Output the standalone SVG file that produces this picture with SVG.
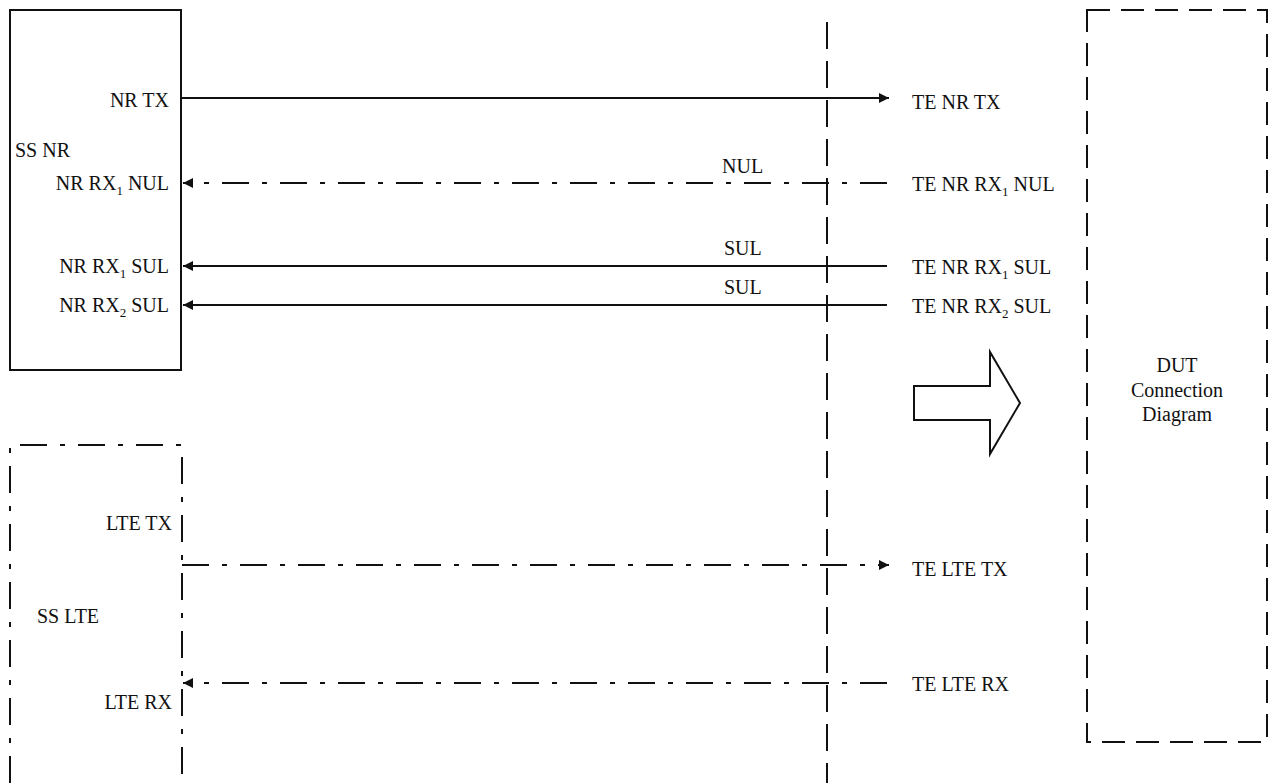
<svg xmlns="http://www.w3.org/2000/svg" width="1273" height="783" viewBox="0 0 1273 783" font-family="'Liberation Serif', 'DejaVu Serif', serif">
<style>
text{font-family:'Liberation Serif','DejaVu Serif','Times New Roman',serif;font-size:20px;fill:#111}
.sub{font-size:13px}
.box{fill:none;stroke:#111;stroke-width:2}
.dd{stroke-dasharray:27 13 5 13}
.ds{stroke-dasharray:23 11}
.vd{stroke-dasharray:27 12}
.ln{fill:none;stroke:#111;stroke-width:2}
</style>
<defs>
<marker id="ah" markerUnits="userSpaceOnUse" markerWidth="11" markerHeight="10" refX="10" refY="5" orient="auto">
<path d="M0,0 L10,5 L0,10 z" fill="#111"/>
</marker>
</defs>
<rect width="1273" height="783" fill="#fff"/>

<g id="ss-nr">
<rect class="box" x="10" y="10" width="171" height="360"/>
<text x="15" y="157">SS NR</text>
<text x="169" y="107" text-anchor="end">NR TX</text>
<text x="169" y="190" text-anchor="end">NR RX<tspan class="sub" dy="5">1</tspan><tspan dy="-5"> NUL</tspan></text>
<text x="169" y="273" text-anchor="end">NR RX<tspan class="sub" dy="5">1</tspan><tspan dy="-5"> SUL</tspan></text>
<text x="169" y="312" text-anchor="end">NR RX<tspan class="sub" dy="5">2</tspan><tspan dy="-5"> SUL</tspan></text>
</g>

<g id="ss-lte">
<path class="box dd" d="M10,783 L10,445 L182,445 L182,783"/>
<text x="37" y="623">SS LTE</text>
<text x="172" y="530" text-anchor="end">LTE TX</text>
<text x="172" y="709" text-anchor="end">LTE RX</text>
</g>

<g id="boundary">
<line class="ln vd" x1="827" y1="22" x2="827" y2="783"/>
</g>

<g id="te-labels">
<text x="912" y="109">TE NR TX</text>
<text x="912" y="191">TE NR RX<tspan class="sub" dy="5">1</tspan><tspan dy="-5"> NUL</tspan></text>
<text x="912" y="274">TE NR RX<tspan class="sub" dy="5">1</tspan><tspan dy="-5"> SUL</tspan></text>
<text x="912" y="313">TE NR RX<tspan class="sub" dy="5">2</tspan><tspan dy="-5"> SUL</tspan></text>
<text x="912" y="576">TE LTE TX</text>
<text x="912" y="691">TE LTE RX</text>
</g>

<g id="big-arrow">
<path class="box" d="M914,386 L990,386 L990,352 L1020,403 L990,454 L990,420 L914,420 Z"/>
</g>

<g id="dut">
<rect class="box ds" x="1087" y="10" width="180" height="732"/>
<text x="1177" y="372" text-anchor="middle">DUT</text>
<text x="1177" y="397" text-anchor="middle">Connection</text>
<text x="1177" y="421" text-anchor="middle">Diagram</text>
</g>

<g id="connectors">
<line class="ln" x1="182" y1="98" x2="889" y2="98" marker-end="url(#ah)"/>
<line class="ln dd" x1="887" y1="183" x2="183" y2="183" marker-end="url(#ah)"/>
<line class="ln" x1="887" y1="266" x2="183" y2="266" marker-end="url(#ah)"/>
<line class="ln" x1="887" y1="305" x2="183" y2="305" marker-end="url(#ah)"/>
<line class="ln dd" x1="182" y1="565" x2="889" y2="565" marker-end="url(#ah)"/>
<line class="ln dd" x1="887" y1="683" x2="183" y2="683" marker-end="url(#ah)"/>
<text x="722" y="173">NUL</text>
<text x="724" y="255">SUL</text>
<text x="724" y="294">SUL</text>
</g>
</svg>
